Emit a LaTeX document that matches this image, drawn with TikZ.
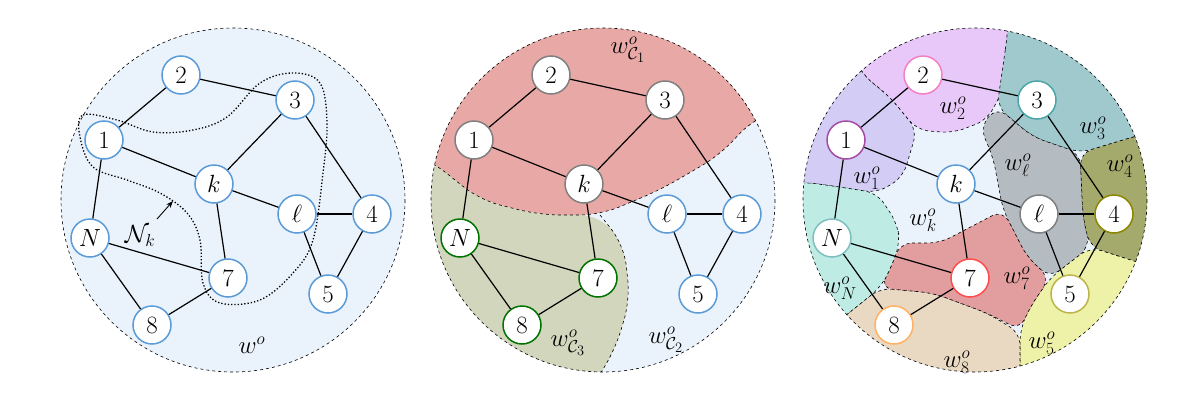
\documentclass[tikz,border=0pt]{standalone}
\usetikzlibrary{arrows.meta}
\begin{document}
\begin{tikzpicture}[x=1pt,y=-1pt,
  gn/.style={circle,fill=white,draw=#1,line width=1.5pt,minimum size=38pt,inner sep=0pt,font=\fontsize{24}{24}\selectfont},
  edge/.style={line width=1.2pt},
  bnd/.style={dashed,line width=0.6pt},
  lab/.style={font=\fontsize{27}{27}\selectfont,inner sep=1pt}]
\definecolor{lb}{HTML}{EAF3FB}\definecolor{nb}{HTML}{5B9BD8}
\definecolor{rr}{HTML}{E8A9A6}\definecolor{gg}{HTML}{D2D6BC}
\definecolor{cA}{HTML}{D3CDF5}\definecolor{cB}{HTML}{E7C8F8}\definecolor{cC}{HTML}{A0C9CE}
\definecolor{cL}{HTML}{B4BCC2}\definecolor{cD}{HTML}{A4A96C}\definecolor{cE}{HTML}{EEF2A8}
\definecolor{cH}{HTML}{E9D9C2}\definecolor{cG}{HTML}{E29E9E}\definecolor{cN}{HTML}{BEECE4}
\useasboundingbox (0,0) rectangle (1200,405);
\foreach \c in {233,603,975}{\fill[lb] (\c,200) circle (172);}
\begin{scope}
\clip (603,200) circle (172);
\fill[rr,rounded corners=20pt] (400,0)--(800,0)--(800,100)--(752,120)--(720,155)--(660,190)--(600,215)--(540,215)--(480,200)--(430,160)--(400,150)--cycle;
\fill[gg,rounded corners=20pt] (400,150)--(430,160)--(480,200)--(540,215)--(600,215)--(624,245)--(630,300)--(615,350)--(590,390)--(580,420)--(400,420)--cycle;
\draw[bnd,rounded corners=20pt] (400,150)--(430,160)--(480,200)--(540,215)--(600,215)--(660,190)--(720,155)--(752,120)--(800,100);
\draw[bnd,rounded corners=20pt] (600,215)--(624,245)--(630,300)--(615,350)--(590,390)--(580,420);
\end{scope}
\begin{scope}
\clip (975,200) circle (172);
\foreach \col/\pts in {
 cA/{(890,97)--(863,75)--(840,30)--(760,100)--(760,190)--(803,182)--(840,187)--(877,193)--(903,177)--(917,130)},
 cB/{(863,75)--(890,97)--(917,130)--(953,133)--(987,120)--(1003,90)--(1007,38)--(1010,0)--(840,0)--(840,30)},
 cC/{(1007,38)--(997,107)--(1033,137)--(1080,153)--(1133,137)--(1200,120)--(1200,0)--(1010,0)},
 cL/{(997,107)--(980,127)--(993,157)--(1003,210)--(1027,257)--(1050,278)--(1090,247)--(1083,217)--(1080,153)--(1033,137)},
 cD/{(1080,153)--(1133,137)--(1200,120)--(1200,280)--(1140,263)--(1090,247)--(1083,217)},
 cE/{(1050,278)--(1030,307)--(1020,330)--(1020,380)--(1020,420)--(1200,420)--(1200,280)--(1140,263)--(1090,247)},
 cH/{(840,320)--(880,288)--(933,293)--(987,313)--(1020,333)--(1020,380)--(1020,420)--(800,420)--(800,340)},
 cG/{(900,243)--(940,243)--(1003,210)--(1027,257)--(1050,278)--(1030,307)--(1020,330)--(987,313)--(933,293)--(880,288)--(890,270)},
 cN/{(803,182)--(760,190)--(760,340)--(800,340)--(840,320)--(880,288)--(890,270)--(900,243)--(897,223)--(877,193)--(840,187)}}
 {\fill[\col,rounded corners=12pt] \pts--cycle;
  \draw[bnd,rounded corners=12pt] \pts--cycle;}
\end{scope}
\foreach \c in {233,603,975}{\draw[bnd] (\c,200) circle (172);}
\draw[dotted,line width=1.3pt] plot[smooth cycle,tension=0.6] coordinates{(80,137)(83,115)(117,120)(153,132)(193,130)(227,117)(260,83)(293,73)(320,83)(327,123)(323,173)(313,240)(293,273)(260,300)(220,303)(203,283)(200,240)(187,213)(160,193)(127,180)(93,167)};
\foreach \n/\x/\y/\t/\ca/\cb/\cc in {
 1/104/140/1/nb/gray/violet!70,
 2/181/75/2/nb/gray/magenta!50,
 3/295/100/3/nb/gray/teal!70,
 k/214/184/k/nb/gray/nb,
 l/297/214/\ell/nb/nb/gray,
 4/372/214/4/nb/nb/olive,
 N/90/238/N/nb/green!45!black/teal!50,
 7/228/278/7/nb/green!45!black/red!70,
 5/328/294/5/nb/nb/olive!60,
 8/152/325/8/nb/green!45!black/orange!60}{
 \node[gn=\ca] (a\n) at (\x,\y) {$\t$};
 \node[gn=\cb] (b\n) at (\x+370,\y) {$\t$};
 \node[gn=\cc] (c\n) at (\x+742,\y) {$\t$};}
\foreach \p in {a,b,c}{
 \foreach \u/\v in {1/2,2/3,1/k,3/k,3/4,k/l,l/4,4/5,l/5,k/7,1/N,N/7,N/8,8/7}
  \draw[edge] (\p\u)--(\p\v);}
\node[lab] (w0) at (252,345) {$w^o$};
\node[lab] (nk) at (140,236) {$\mathcal{N}_k$};
\coordinate (nkt) at (173,201);
\coordinate (nks) at (157,219);
\draw[-{Stealth[length=7pt]},line width=0.9pt] (nks)--(nkt);
\node[lab] (wc1) at (628,50) {$w^o_{\mathcal{C}_1}$};
\node[lab] (wc3) at (568,343) {$w^o_{\mathcal{C}_3}$};
\node[lab] (wc2) at (666,340) {$w^o_{\mathcal{C}_2}$};
\node[lab] (w1) at (867,178) {$w^o_1$};
\node[lab] (w2) at (953,108) {$w^o_2$};
\node[lab] (w3) at (1093,128) {$w^o_3$};
\node[lab] (wl) at (1018,165) {$w^o_\ell$};
\node[lab] (w4) at (1120,166) {$w^o_4$};
\node[lab] (wk) at (923,220) {$w^o_k$};
\node[lab] (wN) at (840,288) {$w^o_N$};
\node[lab] (w7) at (1017,278) {$w^o_7$};
\node[lab] (w5) at (1042,343) {$w^o_5$};
\node[lab] (w8) at (957,362) {$w^o_8$};
\end{tikzpicture}
\end{document}
